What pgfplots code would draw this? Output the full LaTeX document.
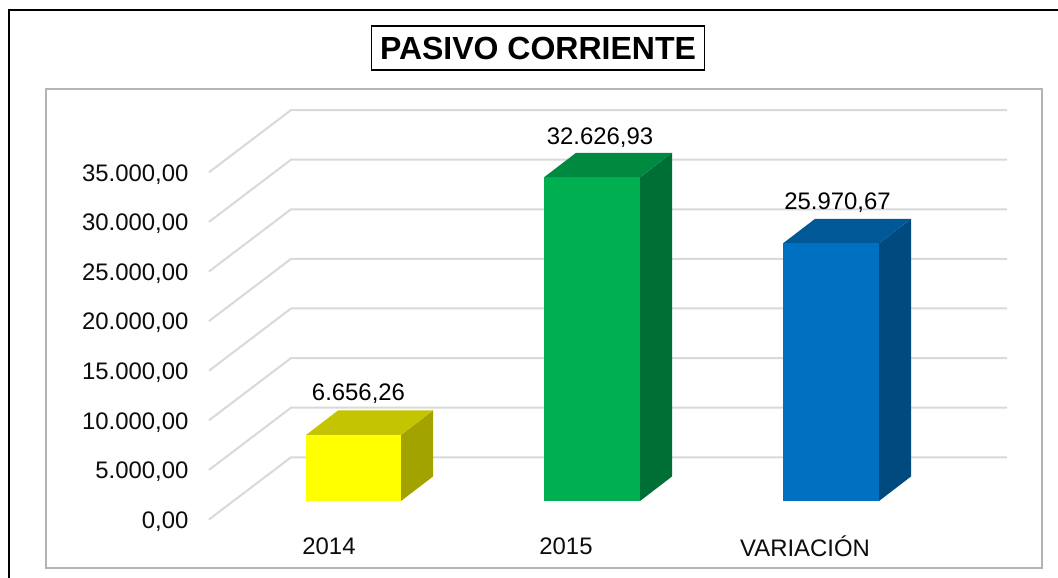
\documentclass[border=0pt]{standalone}
\usepackage{fontspec}
\setmainfont{Liberation Sans}
\usepackage{pgfplots}
\pgfplotsset{compat=1.18}
\definecolor{gridc}{HTML}{D9D9D9}
\definecolor{boxc}{HTML}{B4B4B4}
\definecolor{txt}{HTML}{0D0D0D}
\definecolor{yF}{HTML}{FFFF00}\definecolor{yT}{HTML}{C4C400}\definecolor{yS}{HTML}{A3A300}
\definecolor{gF}{HTML}{00B050}\definecolor{gT}{HTML}{008A3F}\definecolor{gS}{HTML}{006F35}
\definecolor{bF}{HTML}{0070C0}\definecolor{bT}{HTML}{005996}\definecolor{bS}{HTML}{004A80}
\newcommand{\lab}{\fontsize{23.9}{28}\selectfont}
\pgfplotsset{base/.style={
  width=1058pt,height=578pt,scale only axis,
  axis line style={draw=none},tick style={draw=none},
  xmin=0,xmax=1058,clip=false,
  scaled y ticks=false,scaled x ticks=false}}
\begin{document}
\begin{tikzpicture}
\useasboundingbox (0,0) rectangle (1058pt,578pt);
\fill[white] (0,0) rectangle (1058pt,578pt);
\draw[black,line width=2pt] (8.5pt,0pt) -- (8.5pt,568pt) -- (1058pt,568pt);
\draw[boxc,line width=2pt] (45.5pt,489pt) rectangle (1042pt,10pt);
% value axis: front wall, zero at the front end of the floor grid line
\begin{axis}[base,
  ymin=-5697,ymax=52566,
  xtick=\empty,
  ytick={0,5000,10000,15000,20000,25000,30000,35000},
  yticklabel style={xshift=192pt,anchor=east,font=\lab,text=txt,
    /pgf/number format/.cd,fixed,fixed zerofill,precision=2,
    1000 sep={.},dec sep={,},assume math mode=true},
]
\end{axis}
% bars: zero at the base of the bar fronts
\begin{axis}[base,
  ymin=-7762,ymax=50504,
  ytick=\empty,
  xtick={329,566,805},
  xticklabels={2014,2015,VARIACIÓN},
  xticklabel style={font=\lab,text=txt,anchor=center,yshift=31.5pt},
  title={\textbf{PASIVO CORRIENTE}},
  title style={at={(0.5085,0.9063)},anchor=center,draw=black,line width=1.8pt,fill=white,
    minimum width=333pt,minimum height=44pt,inner sep=0pt,font=\fontsize{32}{36}\selectfont},
]
\pgfplotsset{grid line/.style={gridc,line width=2pt,no markers}}
\addplot[grid line] coordinates {(209,-1865) (291,4405) (1007,4405)};
\addplot[grid line] coordinates {(209,3135) (291,9405) (1007,9405)};
\addplot[grid line] coordinates {(209,8135) (291,14405) (1007,14405)};
\addplot[grid line] coordinates {(209,13135) (291,19405) (1007,19405)};
\addplot[grid line] coordinates {(209,18135) (291,24405) (1007,24405)};
\addplot[grid line] coordinates {(209,23135) (291,29405) (1007,29405)};
\addplot[grid line] coordinates {(209,28135) (291,34405) (1007,34405)};
\addplot[grid line] coordinates {(209,33135) (291,39405) (1007,39405)};
% 2014
\addplot[fill=yS,draw=none,no markers] coordinates {(401,0) (433,2470) (433,9126.26) (401,6656.26)} --cycle;
\addplot[fill=yT,draw=none,no markers] coordinates {(306,6656.26) (338,9126.26) (433,9126.26) (401,6656.26)} --cycle;
\addplot[fill=yF,draw=none,no markers] coordinates {(306,0) (306,6656.26) (401,6656.26) (401,0)} --cycle;
% 2015
\addplot[fill=gS,draw=none,no markers] coordinates {(640,0) (672,2470) (672,35096.93) (640,32626.93)} --cycle;
\addplot[fill=gT,draw=none,no markers] coordinates {(544,32626.93) (576,35096.93) (672,35096.93) (640,32626.93)} --cycle;
\addplot[fill=gF,draw=none,no markers] coordinates {(544,0) (544,32626.93) (640,32626.93) (640,0)} --cycle;
% VARIACION
\addplot[fill=bS,draw=none,no markers] coordinates {(879,0) (911,2470) (911,28440.67) (879,25970.67)} --cycle;
\addplot[fill=bT,draw=none,no markers] coordinates {(783,25970.67) (815,28440.67) (911,28440.67) (879,25970.67)} --cycle;
\addplot[fill=bF,draw=none,no markers] coordinates {(783,0) (783,25970.67) (879,25970.67) (879,0)} --cycle;
\node[font=\lab,text=black] at (axis cs:358.5,10790) {6.656,26};
\node[font=\lab,text=black] at (axis cs:600,36600) {32.626,93};
\node[font=\lab,text=black] at (axis cs:837.5,30040) {25.970,67};
\end{axis}
\end{tikzpicture}
\end{document}
